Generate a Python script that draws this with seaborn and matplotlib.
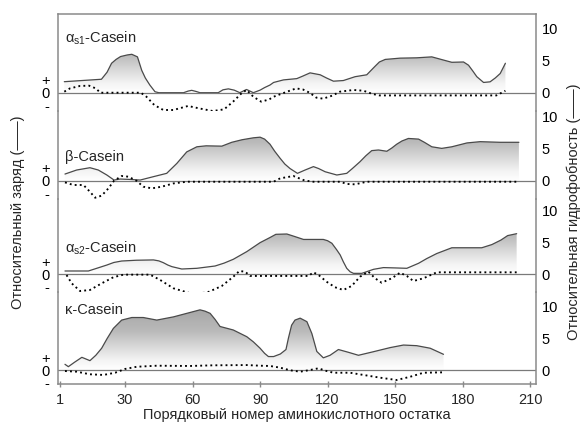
import numpy as np
import matplotlib
matplotlib.use("Agg")
import matplotlib.pyplot as plt
import seaborn as sns
from matplotlib.colors import LinearSegmentedColormap

# ---------------- data ----------------
titles = ["α$_{\\mathrm{s1}}$-Casein", "β-Casein", "α$_{\\mathrm{s2}}$-Casein", "κ-Casein"]

as1_h_res = [3, 19.5, 22, 24, 26, 28, 31, 33, 35.5, 37.4, 39, 41, 43.3, 45, 56, 58, 59.6, 61.5, 63.3,
             71.4, 73.5, 75.9, 78.5, 81, 84, 87, 90, 92, 94.4, 96, 100.4, 106.3, 109, 112.2, 116.7,
             119.5, 122.6, 127, 132.2, 137.4, 141, 143, 145.6, 152.2, 159.6, 166.3, 171.5, 175.2,
             180.4, 182.6, 184.5, 186.3, 189.3, 192.2, 194.5, 196.7, 199]
as1_h_val = [1.72, 2.1, 3.2, 4.6, 5.2, 5.65, 5.9, 6.0, 5.6, 3.5, 2.3, 1.2, 0.15, 0.0, 0.0, 0.25, 0.37, 0.2, 0.0,
             0.0, 0.45, 0.6, 0.4, 0.0, 0.5, 0.0, 0.4, 0.8, 1.2, 1.6, 2.0, 2.2, 2.6, 3.1, 2.8,
             2.3, 1.8, 1.9, 2.5, 2.8, 4.1, 4.8, 5.2, 5.4, 5.45, 5.6, 5.1, 4.75,
             4.8, 4.3, 3.4, 2.5, 1.6, 1.7, 2.3, 3.0, 4.6]
as1_q_res = [3, 5.5, 10, 14, 17, 19, 37, 39.5, 43, 47, 51.5, 58, 63, 69, 74, 78, 82, 84, 87, 90.5,
             94, 96, 102, 106, 109, 112, 115, 118, 122, 125.5, 131.5, 136, 140, 143, 195, 199]
as1_q_val = [0.08, 0.33, 0.52, 0.54, 0.33, 0.0, 0.0, -0.31, -0.95, -1.33, -1.33, -1.02, -1.21, -1.41,
             -1.28, -0.69, 0.0, 0.21, -0.31, -0.69, -0.52, -0.31, 0.08, 0.33, 0.25, 0.0, -0.38, -0.46,
             -0.23, 0.08, 0.21, 0.15, -0.10, -0.21, -0.21, 0.15]

b_h_res = [3.3, 8.5, 14.4, 18.1, 21.9, 25.1, 27.8, 32, 36.7, 42.6, 48.5, 53, 57.4, 61.9, 66, 73, 77.4,
           82, 87, 90, 92, 94.4, 96.5, 98.9, 101, 103.3, 106.6, 110, 113.7, 116, 118.9, 124.1, 128.5,
           131, 134.4, 137, 139.6, 142.6, 146.3, 148.5, 150.7, 153, 155.9, 160.4, 163, 166.3, 170.7,
           175.2, 181.9, 187.8, 196.7, 205]
b_h_val = [1.04, 1.67, 2.03, 1.67, 0.89, 0.1, 0.26, 0.2, 0.1, 0.63, 1.15, 2.7, 4.5, 5.3, 5.45, 5.4, 6.0,
           6.4, 6.7, 6.8, 6.5, 5.7, 4.6, 3.5, 2.6, 1.9, 1.15, 1.67, 2.2, 1.9, 1.4, 0.89, 1.15,
           1.9, 2.97, 3.9, 4.7, 4.8, 4.6, 5.1, 5.7, 6.2, 6.6, 6.5, 6.0, 5.3, 5.05,
           5.3, 5.9, 6.1, 6.0, 6.0]
b_q_res = [3.3, 7, 11.5, 14.4, 16.7, 19.6, 22.6, 25.1, 28.5, 31.5, 35.2, 38.1, 41.9, 46.3, 51.5, 57.4,
           96, 98.9, 104.8, 109.3, 113, 125.6, 128.5, 132.2, 137.4, 205]
b_q_val = [-0.13, -0.33, -0.33, -0.85, -1.31, -1.15, -0.59, 0.0, 0.36, 0.31, -0.02, -0.46, -0.59, -0.46,
           -0.21, -0.08, -0.08, 0.18, 0.36, 0.05, -0.08, -0.08, -0.25, -0.28, -0.08, -0.08]

as2_h_res = [3.3, 13.7, 17.5, 21.9, 25, 28.5, 35, 42.6, 45, 47, 49, 50.8, 55.2, 61.9, 70, 74, 78.1, 84.1,
             90, 94.4, 97, 101.9, 105, 109.3, 118.1, 120, 121.9, 124, 125.6, 127, 128.5, 130, 131.5,
             135.2, 140.4, 144.8, 150, 155.2, 160.4, 164, 168.5, 175.2, 188.5, 193, 197, 200, 204]
as2_h_val = [0.47, 0.47, 0.9, 1.4, 1.8, 2.03, 2.15, 2.2, 2.05, 1.77, 1.4, 1.15, 0.78, 0.89, 1.25, 1.7, 2.3, 3.5,
             4.9, 5.7, 6.2, 6.25, 5.9, 5.4, 5.4, 5.2, 4.8, 3.8, 2.97, 1.9, 0.89, 0.35, 0.1,
             0.1, 0.73, 1.0, 0.95, 0.89, 1.67, 2.4, 3.2, 4.1, 4.1, 4.6, 5.3, 6.0, 6.3]
as2_q_res = [4, 6.3, 10, 14.4, 19.6, 24.8, 29.3, 41.1, 45.6, 51.5, 58.9, 66.3, 73, 78.1, 80.8, 83.3, 85.6,
             111.5, 113.7, 116, 119.5, 123.3, 127, 130.7, 134.4, 138.1, 141.1, 144, 148.5, 152.2, 155.2,
             158.1, 162.6, 168.5, 204]
as2_q_val = [-0.08, -0.72, -1.31, -1.23, -0.72, -0.25, -0.05, -0.05, -0.46, -1.10, -1.48, -1.44, -0.92,
             -0.21, 0.23, 0.18, -0.15, -0.15, 0.13, -0.08, -0.59, -1.02, -1.23, -0.92, -0.21, 0.18, -0.33,
             -0.67, -0.33, 0.10, -0.15, -0.54, -0.33, 0.13, 0.13]

k_h_res = [3.3, 4.8, 7.5, 10.8, 14.4, 17, 19.6, 22, 24.8, 28.5, 33, 38.1, 44.1, 51.5, 57.4, 63.3, 65.5,
           67.8, 70, 72.2, 78.1, 84.1, 87, 90, 92, 93.7, 96, 99, 101.5, 102.6, 104, 105.5, 107.8, 110.8,
           113, 115.2, 118.1, 121.1, 124.8, 129.3, 133.7, 140.4, 147.8, 153.7, 159.6, 165.6, 171.5]
k_h_val = [0.89, 0.52, 1.2, 1.98, 1.46, 2.3, 3.4, 4.9, 6.5, 7.8, 8.2, 8.2, 7.8, 8.3, 8.85, 9.4, 9.2,
           8.85, 7.9, 6.8, 6.25, 5.2, 4.4, 3.4, 2.6, 2.1, 2.1, 2.5, 3.2, 5.0, 7.0, 7.8, 8.1, 7.55,
           5.7, 2.9, 1.9, 2.3, 3.2, 2.76, 2.3, 2.86, 3.5, 3.9, 3.8, 3.4, 2.45]
k_q_res = [3.3, 8.5, 14.4, 20.4, 25.6, 30, 35.2, 44.1, 58.9, 69.2, 84.1, 90, 94.4, 98.9, 103.3, 107.8,
           112.2, 115.9, 119.6, 122.6, 130, 135.9, 143.3, 150.7, 156.7, 162.6, 171.5]
k_q_val = [-0.08, -0.13, -0.33, -0.38, -0.21, 0.08, 0.25, 0.33, 0.31, 0.36, 0.38, 0.33, 0.31, 0.18,
           -0.02, -0.13, 0.0, 0.13, -0.08, -0.21, -0.21, -0.38, -0.59, -0.77, -0.52, -0.21, -0.18]

hydro = [(as1_h_res, as1_h_val), (b_h_res, b_h_val), (as2_h_res, as2_h_val), (k_h_res, k_h_val)]
charge = [(as1_q_res, as1_q_val), (b_q_res, b_q_val), (as2_q_res, as2_q_val), (k_q_res, k_q_val)]

x_ticks = [1, 30, 60, 90, 120, 150, 180, 210]
right_ticks = [0, 5, 10]
left_ticks = [1, 0, -1]
left_labels = ["+", "0", "-"]

# ---------------- style / layout ----------------
sns.set_theme(style="white")
plt.rcParams["font.family"] = ["Liberation Sans", "DejaVu Sans"]
plt.rcParams["mathtext.fontset"] = "custom"
plt.rcParams["mathtext.rm"] = "Liberation Sans"
plt.rcParams["mathtext.it"] = "Liberation Sans:italic"

W, H = 584, 423
fig = plt.figure(figsize=(W / 100, H / 100), dpi=100)
BOX_L, BOX_R = 58, 536
bounds = [14, 110.7, 198.7, 292, 384]
zeros = [92.7, 180.7, 274, 370]
title_y = [38, 157, 248, 310]
PXH, PXQ = 6.4, 13.0
XLIM = (0.2, 212.6)
SPINE = "#8a8a8a"

cmap = LinearSegmentedColormap.from_list(
    "g", [(0.0, "#ffffff"), (0.15, "#f4f4f4"), (0.6, "#bababa"), (1.0, "#a2a2a2")])
grad = np.linspace(0, 1, 256).reshape(-1, 1)

for i in range(4):
    top, bot, z = bounds[i], bounds[i + 1], zeros[i]
    ax = fig.add_axes([BOX_L / W, 1 - bot / H, (BOX_R - BOX_L) / W, (bot - top) / H])
    axh = ax.twinx()

    hx, hy = hydro[i]
    poly = axh.fill_between(hx, 0, hy, facecolor="none", edgecolor="none")
    im = axh.imshow(grad, extent=[XLIM[0], XLIM[1], 0, 10.0], origin="lower",
                    aspect="auto", cmap=cmap, zorder=1, interpolation="bilinear")
    im.set_clip_path(poly.get_paths()[0], transform=axh.transData)
    sns.lineplot(x=hx, y=hy, ax=axh, color="#4a4a4a", linewidth=0.9, zorder=3)

    qx, qy = charge[i]
    ax.axhline(0, color="#7a7a7a", linewidth=0.9, zorder=2)
    sns.lineplot(x=qx, y=qy, ax=ax, color="black", linewidth=1.35,
                 linestyle=(0, (1, 1.7)), zorder=4)

    ax.set_zorder(axh.get_zorder() + 1)
    ax.patch.set_visible(False)

    axh.set_xlim(*XLIM)
    ax.set_xlim(*XLIM)
    axh.set_ylim(-(bot - z) / PXH, (z - top) / PXH)
    ax.set_ylim(-(bot - z) / PXQ, (z - top) / PXQ)

    ax.set_yticks(left_ticks)
    ax.set_yticklabels(left_labels)
    ax.tick_params(axis="y", length=0, pad=6, labelsize=10.5, colors="black")
    axh.set_yticks(right_ticks)
    axh.set_yticklabels([str(t) for t in right_ticks])
    axh.tick_params(axis="y", length=0, pad=4, labelsize=10.5, colors="black")
    ax.set_xlabel("")
    ax.set_ylabel("")
    axh.set_ylabel("")

    for s in axh.spines.values():
        s.set_visible(False)
    for name, s in ax.spines.items():
        s.set_color(SPINE)
        s.set_linewidth(1.1)
    ax.spines["top"].set_visible(i == 0)
    ax.spines["bottom"].set_visible(i == 3)

    if i == 3:
        ax.set_xticks(x_ticks)
        ax.tick_params(axis="x", direction="inout", length=5, width=1, color=SPINE,
                       labelsize=10.5, pad=4, bottom=True)
        ax.set_xlabel("Порядковый номер аминокислотного остатка", fontsize=10.5, labelpad=1)
    else:
        ax.tick_params(axis="x", bottom=False, labelbottom=False)

    fig.text(65 / W, 1 - title_y[i] / H, titles[i], ha="left", va="center", fontsize=10.5)

fig.text(18 / W, 1 - 212 / H, "Относительный заряд (——)", rotation=90,
         ha="center", va="center", fontsize=10.5)
fig.text(574 / W, 1 - 212 / H, "Относительная гидрофобность (——)", rotation=90,
         ha="center", va="center", fontsize=10.5)

fig.savefig("out.png", dpi=100)
